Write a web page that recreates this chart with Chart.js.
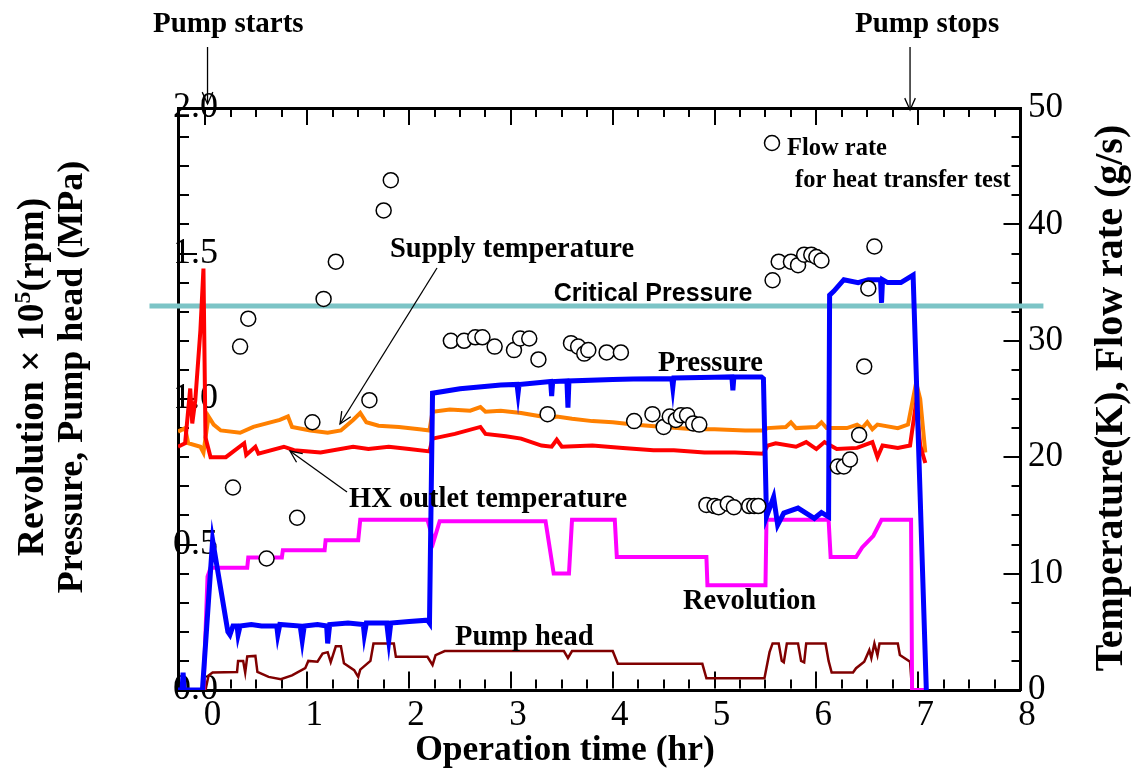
<!DOCTYPE html>
<html>
<head>
<meta charset="utf-8">
<script src="https://cdn.jsdelivr.net/npm/chart.js@4.4.1/dist/chart.umd.min.js"></script>
<style>
  html, body { margin: 0; padding: 0; background: #fff; }
  #wrap { width: 1136px; height: 773px; }
</style>
</head>
<body>
<div id="wrap"><canvas id="grafico"></canvas></div>
<script>
// operation time (hr) and readings taken off the figure
const xMin = -0.27;
const xMax = 8;
const xMajor = [0, 1, 2, 3, 4, 5, 6, 7, 8];
const yLeftLabels = ['0.0', '0.5', '1.0', '1.5', '2.0'];
const yRightMajor = [0, 10, 20, 30, 40, 50];

// Pressure (MPa)
const pressureT = [-0.27,-0.23,-0.22,-0.21,-0.03,0.07,0.22,0.24,0.27,0.31,
  0.32,0.34,0.45,0.55,0.70,0.71,0.73,0.93,0.95,0.97,
  1.10,1.19,1.20,1.22,1.40,1.55,1.56,1.58,1.78,1.80,
  1.82,2.00,2.18,2.20,2.23,2.50,2.90,3.06,3.07,3.08,
  3.39,3.40,3.41,3.55,3.56,3.57,4.00,4.20,4.58,4.59,
  4.60,5.00,5.17,5.18,5.19,5.46,5.48,5.51,5.58,5.62,
  5.68,5.82,5.98,6.05,6.12,6.13,6.17,6.27,6.41,6.51,
  6.63,6.64,6.65,6.70,6.83,6.95,7.08];
const pressureV = [0,0,0.06,0,0,0.515,0.20,0.19,0.22,0.22,
  0.19,0.22,0.225,0.22,0.22,0.19,0.225,0.22,0.17,0.22,
  0.225,0.22,0.16,0.225,0.23,0.225,0.19,0.23,0.23,0.17,
  0.23,0.235,0.24,0.23,1.02,1.035,1.048,1.05,1.02,1.05,
  1.06,1.01,1.06,1.062,0.97,1.062,1.067,1.069,1.07,1.04,
  1.072,1.075,1.076,1.03,1.076,1.076,1.07,0.595,0.663,0.567,
  0.608,0.625,0.59,0.61,0.595,1.357,1.37,1.41,1.40,1.41,
  1.41,1.33,1.41,1.40,1.40,1.426,0];

// Revolution (x 10^5 rpm)
const revT = [-0.27,-0.02,0.02,0.05,0.41,0.42,0.75,0.76,1.17,1.18,
  1.50,1.52,2.18,2.24,2.30,3.34,3.42,3.57,3.60,4.02,
  4.04,4.92,4.93,5.50,5.51,6.12,6.14,6.39,6.45,6.56,
  6.64,6.93,6.94,7.06];
const revV = [0,0,0.39,0.42,0.42,0.455,0.455,0.48,0.48,0.515,
  0.515,0.585,0.585,0.51,0.58,0.58,0.40,0.40,0.585,0.585,
  0.457,0.457,0.36,0.36,0.585,0.585,0.457,0.457,0.49,0.53,
  0.585,0.585,0,0];

// Pump head (MPa)
const headT = [-0.27,0.00,0.03,0.07,0.31,0.32,0.37,0.39,0.41,0.49,
  0.51,0.62,0.74,0.85,0.98,1.01,1.10,1.15,1.20,1.23,
  1.28,1.33,1.36,1.46,1.50,1.52,1.62,1.65,1.85,1.87,
  2.18,2.23,2.26,2.35,3.52,3.56,3.60,4.00,4.05,4.88,
  4.92,5.49,5.54,5.57,5.63,5.66,5.68,5.71,5.82,5.85,
  5.88,5.90,6.09,6.12,6.15,6.36,6.39,6.47,6.52,6.54,
  6.57,6.60,6.62,6.80,6.82,6.92,6.94,7.06];
const headV = [0,0,0.05,0.06,0.062,0.10,0.10,0.06,0.115,0.117,
  0.062,0.045,0.037,0.05,0.075,0.10,0.097,0.125,0.13,0.096,
  0.15,0.15,0.092,0.068,0.045,0.07,0.10,0.16,0.16,0.114,
  0.114,0.086,0.12,0.134,0.134,0.11,0.134,0.134,0.09,0.09,
  0.04,0.04,0.13,0.16,0.16,0.10,0.095,0.16,0.16,0.10,
  0.095,0.16,0.16,0.10,0.06,0.06,0.075,0.097,0.137,0.11,
  0.16,0.12,0.16,0.16,0.12,0.097,0,0];

// Supply temperature (K)
const supplyT = [-0.27,-0.20,-0.17,-0.05,-0.02,0.03,0.08,0.15,0.34,0.47,
  0.73,0.81,0.85,1.03,1.20,1.33,1.45,1.52,1.58,1.70,
  1.90,2.10,2.20,2.23,2.40,2.60,2.70,2.75,2.90,3.10,
  3.30,3.35,3.45,3.60,3.80,4.00,4.20,4.50,4.80,5.00,
  5.30,5.48,5.52,5.70,5.75,5.80,6.00,6.05,6.10,6.30,
  6.40,6.45,6.50,6.55,6.60,6.80,6.90,6.98,7.02,7.07];
const supplyV = [22.2,22.5,21.2,20.9,20.4,23.5,22.8,22.3,22.1,22.6,
  23.2,23.5,22.6,22.3,22.1,22.3,23.2,23.8,23.0,22.7,
  22.6,22.4,22.3,23.9,24.1,24.0,24.3,23.9,24.0,23.8,
  23.5,23.2,23.5,23.3,23.1,23.0,22.8,22.6,22.4,22.4,
  22.3,22.3,22.5,22.6,23.0,22.5,22.6,23.0,22.5,22.5,
  22.8,22.5,23.0,22.4,22.8,22.5,22.8,26.4,25.0,20.4];

// HX outlet temperature (K)
const hxT = [-0.27,-0.20,-0.15,-0.13,-0.10,-0.05,-0.02,0.00,0.05,0.20,
  0.38,0.40,0.49,0.52,0.77,0.87,1.13,1.45,1.60,1.80,
  2.00,2.20,2.23,2.45,2.70,2.75,2.95,3.10,3.30,3.40,
  3.45,3.50,3.80,4.10,4.40,4.60,4.90,5.20,5.48,5.52,
  5.60,5.80,5.90,6.00,6.08,6.20,6.40,6.55,6.60,6.65,
  6.80,6.92,6.98,7.02,7.07];
const hxV = [20.9,21.2,25.9,22.9,24.9,30.9,36.2,21.7,20.0,20.0,
  21.2,20.2,20.9,20.3,20.9,20.6,20.4,20.9,20.7,20.9,
  20.7,20.5,21.6,22.0,22.6,22.0,21.8,21.6,21.0,20.9,
  21.5,20.9,21.0,20.8,20.6,20.6,20.4,20.4,20.3,21.0,
  21.2,20.9,21.3,20.7,21.3,20.7,20.8,21.3,20.0,21.0,
  20.8,21.0,24.7,21.0,19.5];

// Flow rate for heat transfer test (g/s)
const flowT = [0.27,0.34,0.42,0.60,0.90,1.05,1.16,1.28,1.61,1.75,
  1.82,2.41,2.54,2.65,2.72,2.84,3.03,3.09,3.18,3.27,
  3.36,3.59,3.66,3.72,3.76,3.94,4.08,4.21,4.39,4.50,
  4.56,4.62,4.67,4.73,4.79,4.85,4.92,5.00,5.04,5.13,
  5.19,5.34,5.39,5.43,5.57,5.63,5.75,5.82,5.88,5.95,
  6.00,6.05,6.21,6.27,6.33,6.42,6.47,6.51,6.57];
const flowV = [17.4,29.5,31.9,11.3,14.8,23.0,33.6,36.8,24.9,41.2,
  43.8,30.0,30.0,30.3,30.3,29.5,29.2,30.2,30.2,28.4,
  23.7,29.8,29.5,28.9,29.2,29.0,29.0,23.1,23.7,22.6,
  23.5,23.2,23.6,23.6,22.9,22.8,15.9,15.8,15.7,16.0,
  15.7,15.8,15.8,15.8,35.2,36.8,36.8,36.5,37.4,37.4,
  37.2,36.9,19.2,19.2,19.8,21.9,27.8,34.5,38.1];

// Critical pressure (MPa), drawn past both frame edges
const critT = [-0.55, 8.23];
const critV = [1.32, 1.32];

const fSerif = '"Liberation Serif", "Times New Roman", serif';
const fSans = '"Liberation Sans", Arial, sans-serif';

function pts(t, v) {
    return t.map(function (x, i) { return { x: x, y: v[i] }; });
}

// minor ticks: 0.25 hr on x, 0.1 MPa (= 2.5 K) on y
let xTicks = [];
for (let i = 0; i <= 32; i++) xTicks.push(i / 4);
let yTicks = [];
for (let i = 0; i <= 20; i++) yTicks.push(i / 10);

function texto(ctx, s, x, y, size, family, align) {
    ctx.font = 'bold ' + size + 'px ' + (family || fSerif);
    ctx.textAlign = align || 'left';
    ctx.textBaseline = 'alphabetic';
    ctx.fillStyle = '#000';
    ctx.fillText(s, x, y);
}

function flecha(ctx, x1, y1, x2, y2) {
    ctx.beginPath();
    ctx.moveTo(x1, y1);
    ctx.lineTo(x2, y2);
    ctx.stroke();
    const a = Math.atan2(y2 - y1, x2 - x1);
    const l = 13, w = 0.42;
    ctx.beginPath();
    ctx.moveTo(x2 - l * Math.cos(a - w), y2 - l * Math.sin(a - w));
    ctx.lineTo(x2, y2);
    ctx.lineTo(x2 - l * Math.cos(a + w), y2 - l * Math.sin(a + w));
    ctx.stroke();
}

const anotaciones = {
    id: 'anotaciones',
    afterDraw: function (chart) {
        const ctx = chart.ctx;
        const xs = chart.scales.x;
        ctx.save();
        ctx.strokeStyle = '#000';
        ctx.lineWidth = 1.3;

        // pump start / stop markers
        texto(ctx, 'Pump starts', 153, 32, 29);
        texto(ctx, 'Pump stops', 855, 32, 29);
        flecha(ctx, xs.getPixelForValue(0.02), 47, xs.getPixelForValue(0.02), 104);
        flecha(ctx, xs.getPixelForValue(6.92), 47, xs.getPixelForValue(6.92), 110);

        // flow rate legend
        ctx.beginPath();
        ctx.arc(772, 143, 7.5, 0, Math.PI * 2);
        ctx.fillStyle = '#fff';
        ctx.fill();
        ctx.lineWidth = 1.5;
        ctx.stroke();
        ctx.lineWidth = 1.3;
        texto(ctx, 'Flow rate', 787, 155, 24.5);
        texto(ctx, 'for heat transfer test', 795, 187, 24.5);

        // series labels
        texto(ctx, 'Supply temperature', 390, 257, 28.5);
        flecha(ctx, 437, 268, 340, 424);
        texto(ctx, 'Critical Pressure', 653, 301, 25, fSans, 'center');
        texto(ctx, 'Pressure', 658, 371, 28.5);
        texto(ctx, 'HX outlet temperature', 349, 507, 28.5);
        flecha(ctx, 347, 492, 290, 451);
        texto(ctx, 'Revolution', 683, 609, 28.5);
        texto(ctx, 'Pump head', 455, 645, 28.5);

        // axis titles
        ctx.textBaseline = 'middle';
        ctx.textAlign = 'center';
        ctx.font = 'bold 35.5px ' + fSerif;
        ctx.fillText('Operation time (hr)', 565, 751);

        // left title, two lines, with superscript
        ctx.save();
        ctx.translate(33, 377);
        ctx.rotate(-Math.PI / 2);
        const big = 'bold 37.5px ' + fSerif;
        const small = 'bold 24px ' + fSerif;
        const a1 = 'Revolution \u00d7 10', a2 = '5', a3 = '(rpm)';
        ctx.font = big;
        const w1 = ctx.measureText(a1).width, w3 = ctx.measureText(a3).width;
        ctx.font = small;
        const w2 = ctx.measureText(a2).width;
        let x0 = -(w1 + w2 + w3) / 2;
        ctx.textAlign = 'left';
        ctx.font = big;
        ctx.fillText(a1, x0, 0);
        ctx.font = small;
        ctx.fillText(a2, x0 + w1, -9);
        ctx.font = big;
        ctx.fillText(a3, x0 + w1 + w2, 0);
        ctx.restore();

        ctx.save();
        ctx.translate(73, 377);
        ctx.rotate(-Math.PI / 2);
        ctx.textAlign = 'center';
        ctx.font = 'bold 36px ' + fSerif;
        ctx.fillText('Pressure, Pump head (MPa)', 0, 0);
        ctx.restore();

        ctx.save();
        ctx.translate(1112, 398);
        ctx.rotate(-Math.PI / 2);
        ctx.textAlign = 'center';
        ctx.font = 'bold 40px ' + fSerif;
        ctx.fillText('Temperature(K), Flow rate (g/s)', 0, 0);
        ctx.restore();

        ctx.restore();
    }
};

function linea(label, t, v, color, width, axis, order) {
    return {
        label: label,
        data: pts(t, v),
        borderColor: color,
        borderWidth: width,
        pointRadius: 0,
        tension: 0,
        fill: false,
        yAxisID: axis,
        order: order
    };
}

const ctx = document.getElementById('grafico');

new Chart(ctx, {
    type: 'line',
    data: {
        datasets: [
            {
                label: 'Flow rate',
                data: pts(flowT, flowV),
                showLine: false,
                pointRadius: 7.5,
                pointBackgroundColor: '#fff',
                pointBorderColor: '#000',
                pointBorderWidth: 1.5,
                yAxisID: 'y1',
                order: 0
            },
            linea('Pressure', pressureT, pressureV, '#0000ff', 5, 'y', 1),
            linea('Revolution', revT, revV, '#ff00ff', 4, 'y', 2),
            linea('Pump head', headT, headV, '#800000', 2.5, 'y', 3),
            linea('HX outlet temperature', hxT, hxV, '#ff0000', 4, 'y1', 4),
            linea('Supply temperature', supplyT, supplyV, '#ff8000', 4, 'y1', 5),
            Object.assign(linea('Critical Pressure', critT, critV, '#7cc4c6', 5, 'y', 6), { clip: false })
        ]
    },
    options: {
        responsive: true,
        maintainAspectRatio: false,
        animation: false,
        layout: { padding: 0 },
        plugins: {
            legend: { display: false },
            tooltip: { enabled: false }
        },
        scales: {
            x: {
                type: 'linear',
                position: 'bottom',
                min: xMin,
                max: xMax,
                afterBuildTicks: function (axis) {
                    axis.ticks = xTicks.map(function (v) { return { value: v }; });
                },
                afterFit: function (axis) { axis.height = 83; },
                ticks: {
                    autoSkip: false,
                    maxRotation: 0,
                    padding: 5,
                    labelOffset: 7,
                    color: '#000',
                    font: { family: fSerif, size: 35 },
                    callback: function (value) {
                        return xMajor.includes(value) ? String(value) : '';
                    }
                },
                grid: { display: true, drawTicks: false, color: '#000', lineWidth: 2 },
                border: {
                    display: true, color: '#000', width: 3,
                    dash: function (c) {
                        if (c.type !== 'tick' || !c.chart.chartArea) return [];
                        const h = c.chart.chartArea.height - 1.5;
                        const len = xMajor.includes(c.tick.value) ? 17 : 9;
                        return [len, h - 2 * len, len];
                    }
                }
            },
            xTop: {
                type: 'linear',
                position: 'top',
                min: xMin,
                max: xMax,
                afterFit: function (axis) { axis.height = 108; },
                ticks: { display: false },
                grid: { display: false },
                border: { display: true, color: '#000', width: 3 }
            },
            y: {
                type: 'linear',
                position: 'left',
                min: 0,
                max: 2,
                afterBuildTicks: function (axis) {
                    axis.ticks = yTicks.map(function (v) { return { value: v }; });
                },
                afterFit: function (axis) { axis.width = 178; },
                ticks: {
                    autoSkip: false,
                    mirror: true,
                    padding: -5,
                    color: '#000',
                    font: { family: fSerif, size: 36 },
                    callback: function (value, index) {
                        return index % 5 === 0 ? yLeftLabels[index / 5] : '';
                    }
                },
                grid: { display: true, drawTicks: false, color: '#000', lineWidth: 2 },
                border: {
                    display: true, color: '#000', width: 3,
                    dash: function (c) {
                        if (c.type !== 'tick' || !c.chart.chartArea) return [];
                        const w = c.chart.chartArea.width - 1.5;
                        const izq = c.index % 5 === 0 ? 17 : 9;
                        const der = c.index % 4 === 0 ? 17 : 9;
                        return [izq, w - izq - der, der];
                    }
                }
            },
            y1: {
                type: 'linear',
                position: 'right',
                min: 0,
                max: 50,
                afterBuildTicks: function (axis) {
                    axis.ticks = yRightMajor.map(function (v) { return { value: v }; });
                },
                afterFit: function (axis) { axis.width = 116; },
                ticks: {
                    autoSkip: false,
                    padding: 0,
                    color: '#000',
                    font: { family: fSerif, size: 35 }
                },
                grid: { display: false },
                border: { display: true, color: '#000', width: 3 }
            }
        }
    },
    plugins: [anotaciones]
});
</script>
</body>
</html>
